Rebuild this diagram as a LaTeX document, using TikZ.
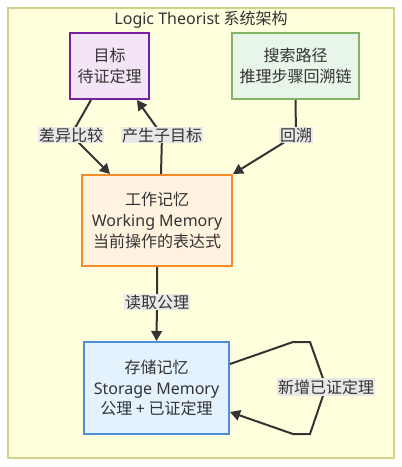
\documentclass[tikz,border=0pt]{standalone}
\usepackage{fontspec}
\setmainfont{Noto Sans CJK SC}
\newfontfamily\latinfont{Noto Sans}
\usetikzlibrary{arrows.meta}
\definecolor{ink}{HTML}{333333}
\definecolor{clusterfill}{HTML}{FFFFDE}
\definecolor{clusterline}{HTML}{D2D28C}
\definecolor{goalfill}{HTML}{F3E5F5}
\definecolor{goalline}{HTML}{7B1FA2}
\definecolor{searchfill}{HTML}{E8F5E9}
\definecolor{searchline}{HTML}{82B366}
\definecolor{workfill}{HTML}{FFF3E0}
\definecolor{workline}{HTML}{F68B2C}
\definecolor{storefill}{HTML}{E3F2FD}
\definecolor{storeline}{HTML}{4A90D9}
\definecolor{lblgray}{HTML}{E8E8E8}

\begin{document}
\begin{tikzpicture}[x=0.75pt, y=-0.75pt]
	\tikzset{box/.style = {draw, line width=1.5pt, align=center, text=ink, inner sep=0pt, font=\fontsize{12}{15.5}\selectfont}}
	\tikzset{edge/.style = {-{Triangle[length=7.5pt, width=8pt]}, draw=ink, line width=1.5pt}}
	\tikzset{lbl/.style = {fill=lblgray, text=ink, inner sep=0.8pt, font=\fontsize{12}{14}\selectfont}}
	\useasboundingbox (0,0) rectangle (402,467);
	\draw[draw=clusterline, fill=clusterfill, line width=1.5pt] (8,8) rectangle (394,458);
	\node[text=ink, font=\fontsize{12}{14}\selectfont] (title) at (201,20) {{\latinfont Logic Theorist} 系统架构};
	\node[box, draw=goalline, fill=goalfill, minimum width=59.25pt, minimum height=49.5pt] (goal) at (109.5,66) {目标\\待证定理};
	\node[box, draw=searchline, fill=searchfill, minimum width=95.25pt, minimum height=49.5pt] (search) at (295.5,66) {搜索路径\\推理步骤回溯链};
	\node[box, draw=workline, fill=workfill, minimum width=112.5pt, minimum height=68.25pt] (work) at (157,220.5) {工作记忆\\{\latinfont Working Memory}\\当前操作的表达式};
	\node[box, draw=storeline, fill=storefill, minimum width=108.75pt, minimum height=69pt] (store) at (156.5,388) {存储记忆\\{\latinfont Storage Memory}\\公理\ {\latinfont +}\ 已证定理};
	% bends
	\coordinate (b1) at (71,135);
	\coordinate (b2) at (162,135);
	\coordinate (b3) at (296,135);
	\coordinate (b4) at (157,302);
	\coordinate (l1) at (293,342);
	\coordinate (l2) at (310,342);
	\coordinate (l3) at (326,387);
	\coordinate (l4) at (310,434);
	\coordinate (l5) at (293,434);
	\draw[edge] ([xshift=-13.9pt]goal.south) -- (b1) node[lbl] {差异比较} -- ([xshift=-35.25pt]work.north);
	\draw[edge] ([xshift=3pt]work.north) -- (b2) node[lbl] {产生子目标} -- ([xshift=20.6pt]goal.south);
	\draw[edge] (search.south) -- (b3) node[lbl] {回溯} -- (work.north east);
	\draw[edge] (work.south) -- (b4) node[lbl] {读取公理} -- (store.north);
	\draw[edge] ([yshift=18pt]store.east) -- (l1) -- (l2) -- (l3) node[lbl] {新增已证定理} -- (l4) -- (l5) -- ([yshift=-18pt]store.east);
\end{tikzpicture}
\end{document}
